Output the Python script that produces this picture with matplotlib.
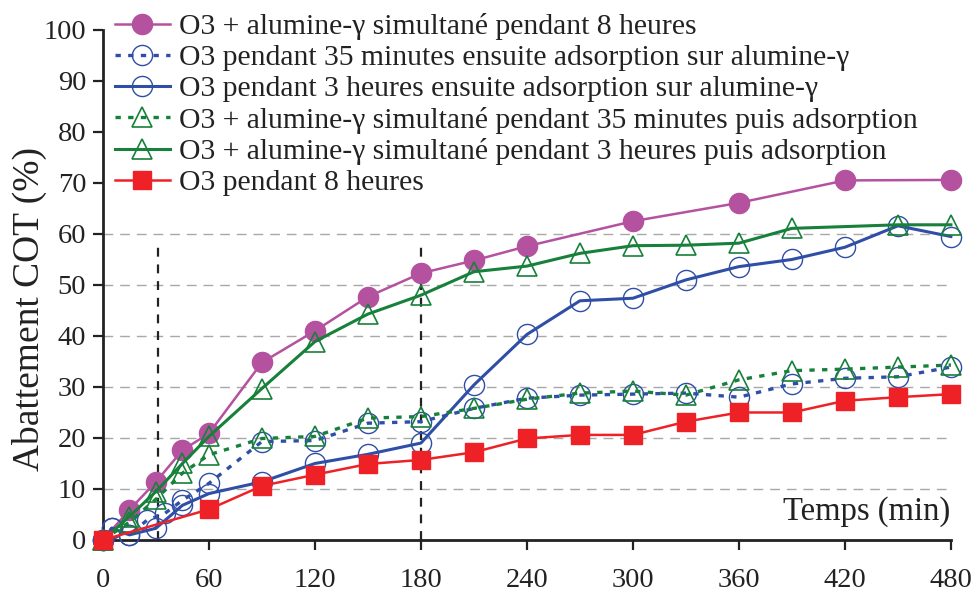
import matplotlib
matplotlib.use("Agg")
import matplotlib.pyplot as plt

plt.rcParams["font.family"] = ["Liberation Serif", "DejaVu Serif"]

# temps (min) et abattement COT (%) pour chaque essai
t_simul_8h = [0, 15, 30, 45, 60, 90, 120, 150, 180, 210, 240, 300, 360, 420, 480]
cot_simul_8h = [0, 5.9, 11.4, 17.6, 20.9, 34.8, 41.0, 47.7, 52.3, 54.8, 57.6, 62.5, 66.1, 70.5, 70.6]

t_o3_35min = [0, 5, 15, 25, 35, 45, 60, 90, 120, 150, 180, 210, 240, 270, 300, 330, 360, 390, 420, 450, 480]
cot_o3_35min = [0, 2.3, 1.0, 3.9, 5.2, 7.8, 11.1, 19.3, 19.5, 22.9, 23.2, 25.8, 27.8, 28.4, 28.6, 28.8,
                28.0, 30.6, 31.7, 32.0, 33.9]

t_o3_3h = [0, 5, 15, 30, 45, 60, 90, 120, 150, 180, 210, 240, 270, 300, 330, 360, 390, 420, 450, 480]
cot_o3_3h = [0, 2.3, 1.0, 2.3, 6.8, 9.1, 11.4, 15.0, 16.8, 19.0, 30.4, 40.3, 46.9, 47.4, 51.0, 53.6,
             55.0, 57.4, 61.6, 59.5]

t_simul_35min = [0, 15, 30, 45, 60, 90, 120, 150, 180, 210, 240, 270, 300, 330, 360, 390, 420, 450, 480]
cot_simul_35min = [0, 3.5, 8.0, 13.1, 16.7, 19.9, 20.3, 23.9, 24.2, 25.8, 27.6, 28.8, 29.2, 28.4, 31.4,
                   33.2, 33.5, 33.9, 34.3]

t_simul_3h = [0, 15, 30, 45, 60, 90, 120, 150, 180, 210, 240, 270, 300, 330, 360, 390, 450, 480]
cot_simul_3h = [0, 4.6, 9.5, 15.0, 20.3, 29.7, 38.9, 44.3, 48.0, 52.6, 53.7, 56.2, 57.7, 57.8, 58.2,
                61.1, 61.8, 61.8]

t_o3_8h = [0, 60, 90, 120, 150, 180, 210, 240, 270, 300, 330, 360, 390, 420, 450, 480]
cot_o3_8h = [0, 6.0, 10.6, 12.8, 14.9, 15.7, 17.2, 19.9, 20.6, 20.6, 23.2, 25.0, 25.0, 27.3, 28.0, 28.6]

labels = [
    "O3 + alumine-\u03b3 simultané pendant 8 heures",
    "O3 pendant 35 minutes ensuite adsorption sur alumine-\u03b3",
    "O3 pendant 3 heures ensuite adsorption sur alumine-\u03b3",
    "O3 + alumine-\u03b3 simultané pendant 35 minutes puis adsorption",
    "O3 + alumine-\u03b3 simultané pendant 3 heures puis adsorption",
    "O3 pendant 8 heures",
]
x_ticks = [0, 60, 120, 180, 240, 300, 360, 420, 480]
y_ticks = [0, 10, 20, 30, 40, 50, 60, 70, 80, 90, 100]
grid_values = [10, 20, 30, 40, 50, 60]
marks_x = [31, 180]   # fin d'ozonation
marks_top = 58

purple = "#B5529F"
blue = "#2F4FA6"
green = "#17803A"
red = "#EE2226"
ink = "#222222"

fig = plt.figure(figsize=(9.74, 5.96), dpi=100)
ax = fig.add_axes([0.1057, 0.094, 0.8706, 0.8557])

for g in grid_values:
    ax.axhline(g, color="#A8A8A8", lw=1.0, dashes=(7, 5), zorder=0)
for m in marks_x:
    ax.plot([m, m], [0, marks_top], color=ink, lw=1.6, dashes=(4, 3.5), zorder=1)

ms = 14.5
ax.plot(t_simul_8h, cot_simul_8h, color=purple, lw=1.8, marker="o", ms=ms,
        mfc=purple, mec=purple, label=labels[0], zorder=3, clip_on=False)
ax.plot(t_o3_35min, cot_o3_35min, color=blue, lw=2.4, dashes=(1.6, 2.2), marker="o", ms=ms,
        mfc="none", mec=blue, mew=1.0, label=labels[1], zorder=4, clip_on=False)
ax.plot(t_o3_3h, cot_o3_3h, color=blue, lw=2.2, marker="o", ms=ms,
        mfc="none", mec=blue, mew=1.0, label=labels[2], zorder=5, clip_on=False)
ax.plot(t_simul_35min, cot_simul_35min, color=green, lw=2.4, dashes=(1.6, 2.2), marker="^", ms=14,
        mfc="none", mec=green, mew=1.2, label=labels[3], zorder=6, clip_on=False)
ax.plot(t_simul_3h, cot_simul_3h, color=green, lw=2.2, marker="^", ms=14,
        mfc="none", mec=green, mew=1.2, label=labels[4], zorder=7, clip_on=False)
ax.plot(t_o3_8h, cot_o3_8h, color=red, lw=1.8, marker="s", ms=13.5,
        mfc=red, mec=red, label=labels[5], zorder=8, clip_on=False)

ax.set_xlim(0, 480)
ax.set_ylim(0, 100)
ax.set_xticks(x_ticks)
ax.set_yticks(y_ticks)
ax.tick_params(axis="both", labelsize=20.5, direction="out", length=7, width=1.6, colors=ink)
ax.tick_params(axis="x", pad=13)
ax.tick_params(axis="y", pad=5)
for side in ["top", "right"]:
    ax.spines[side].set_visible(False)
for side in ["left", "bottom"]:
    ax.spines[side].set_linewidth(2.0)
    ax.spines[side].set_color(ink)

fig.text(29 / 974, 1 - 309 / 596, "Abattement COT (%)", rotation=90, ha="center", va="center",
         fontsize=27, color=ink)
ax.text(0.9988, 0.039, "Temps (min)", transform=ax.transAxes, ha="right", va="baseline",
        fontsize=23.5, color=ink)

leg = fig.legend(loc="upper left", bbox_to_anchor=(0.112, 0.988), fontsize=21.3, frameon=False,
                 handlelength=1.85, handletextpad=0.3, labelspacing=0.15, borderpad=0.2,
                 borderaxespad=0)
for txt in leg.get_texts():
    txt.set_color(ink)

fig.savefig("out.png", dpi=100)
